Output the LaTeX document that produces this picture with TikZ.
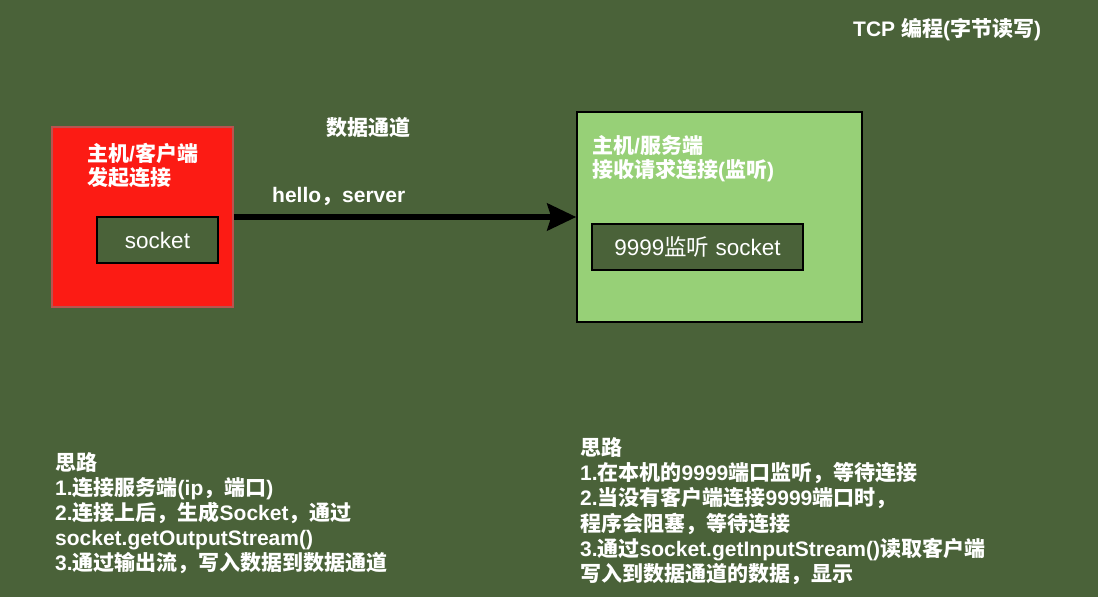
\documentclass[tikz,border=0pt]{standalone}
\usepackage{fontspec}
\setmainfont{Liberation Sans}
\newfontfamily\cjkf{Noto Sans CJK SC}
\newcommand\zh[1]{{\cjkf #1}}
\usetikzlibrary{arrows.meta}
\definecolor{bg}{RGB}{74,98,57}
\definecolor{redfill}{RGB}{252,27,20}
\definecolor{redline}{RGB}{184,84,80}
\definecolor{greenfill}{RGB}{151,208,119}
\begin{document}
\begin{tikzpicture}[x=1pt,y=-1pt,
  lbl/.style={text=white,font=\bfseries\fontsize{21}{24}\selectfont,inner sep=0pt,anchor=base west},
  host/.style={minimum width=#1,inner sep=0pt,line width=1.5pt},
  sock/.style={draw=black,fill=bg,line width=1.5pt,inner sep=0pt,text=white,font=\fontsize{22.5}{26}\selectfont}]
\fill[bg] (0,0) rectangle (1098,597);
\useasboundingbox (0,0) rectangle (1098,597);
% hosts
\node[host=181pt,minimum height=180pt,fill=redfill,draw=redline] (client) at (142.5,217) {};
\node[host=285pt,minimum height=210pt,fill=greenfill,draw=black] (server) at (719.5,217) {};
\node[sock,minimum width=121pt,minimum height=46pt] (csock) at (157.5,240) {socket};
\node[sock,minimum width=211pt,minimum height=46pt] (ssock) at (697.5,247) {9999\zh{监听} socket};
% arrow
\draw[line width=5.5pt,-{Stealth[length=29pt,width=27pt,inset=4pt]}] (client.east) -- (client.east -| server.west);
% labels
\node[lbl] (c1) at (87,161) {\zh{主机}/\zh{客户端}};
\node[lbl] (c2) at (87,185) {\zh{发起连接}};
\node[lbl] (s1) at (592,153) {\zh{主机}/\zh{服务端}};
\node[lbl] (s2) at (592,177) {\zh{接收请求连接}(\zh{监听})};
\node[lbl] (chan) at (326,135) {\zh{数据通道}};
\node[lbl] (msg) at (272,202) {hello\zh{，}server};
\node[lbl] (title) at (853,36) {TCP \zh{编程}(\zh{字节读写})};
% left notes
\node[lbl] (l1) at (55,470) {\zh{思路}};
\node[lbl] (l2) at (55,495) {1.\zh{连接服务端}(ip\zh{，端口})};
\node[lbl] (l3) at (55,520) {2.\zh{连接上后，生成}Socket\zh{，通过}};
\node[lbl] (l4) at (55,545) {socket.getOutputStream()};
\node[lbl] (l5) at (55,570) {3.\zh{通过输出流，写入数据到数据通道}};
% right notes
\node[lbl] (r1) at (580,455) {\zh{思路}};
\node[lbl] (r2) at (580,480) {1.\zh{在本机的}9999\zh{端口监听，等待连接}};
\node[lbl] (r3) at (580,505.5) {2.\zh{当没有客户端连接}9999\zh{端口时，}};
\node[lbl] (r4) at (580,531) {\zh{程序会阻塞，等待连接}};
\node[lbl] (r5) at (580,556) {3.\zh{通过}socket.getInputStream()\zh{读取客户端}};
\node[lbl] (r6) at (580,581.5) {\zh{写入到数据通道的数据，显示}};
\end{tikzpicture}
\end{document}
